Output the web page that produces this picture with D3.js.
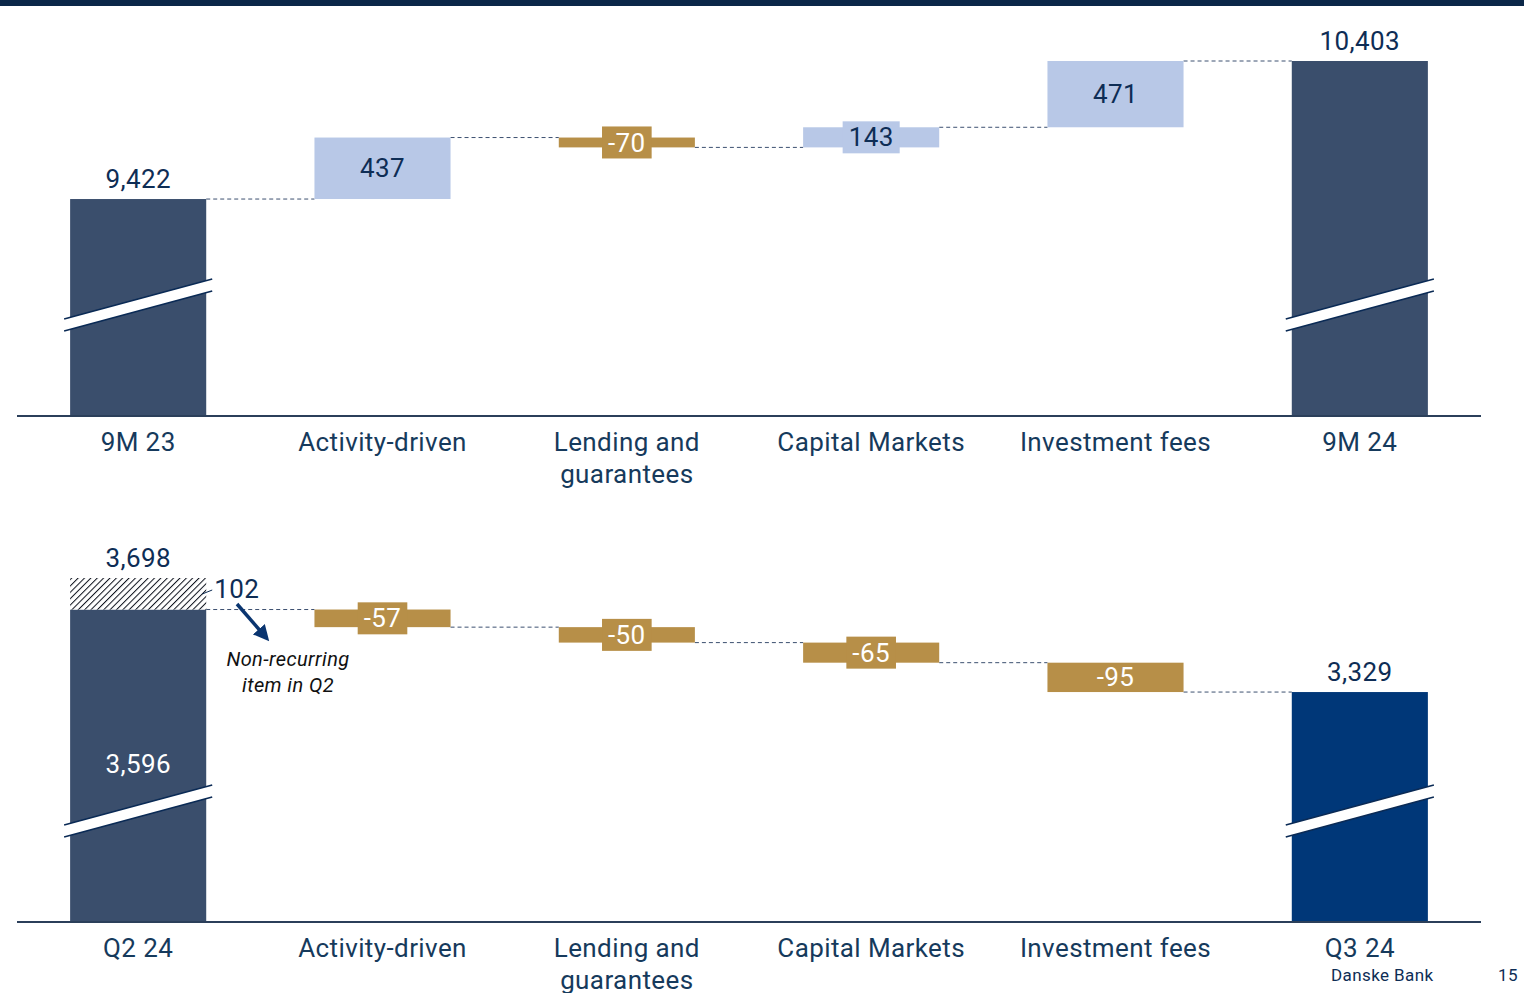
<!DOCTYPE html>
<html>
<head>
<meta charset="utf-8">
<script src="https://cdn.jsdelivr.net/npm/d3@7"></script>
<style>
  html, body { margin: 0; padding: 0; background: #fff; }
  svg { display: block; font-family: Roboto, "Noto Sans", sans-serif; letter-spacing: 0.4px; }
</style>
</head>
<body>
<svg id="chart" width="1524" height="993"></svg>
<script>
// data
var categoriesTop = ["9M 23", "Activity-driven", "Lending and\nguarantees", "Capital Markets", "Investment fees", "9M 24"];
var categoriesBottom = ["Q2 24", "Activity-driven", "Lending and\nguarantees", "Capital Markets", "Investment fees", "Q3 24"];
var startTop = 9422;
var deltasTop = [437, -70, 143, 471];
var endTop = 10403;
var startBottom = 3596;
var nonRecurring = 102;
var deltasBottom = [-57, -50, -65, -95];
var endBottom = 3329;

var navy = "#0e2d55", slate = "#3a4e6c", blue = "#003778", light = "#b8c8e7", gold = "#b78f48";
var fmt = d3.format(",");
var svg = d3.select("#chart");
var defs = svg.append("defs");

// top rule
svg.append("rect").attr("x", 0).attr("y", 0).attr("width", 1524).attr("height", 6).attr("fill", "#0b2748");

// hatch pattern
var pat = defs.append("pattern")
  .attr("id", "hatch").attr("patternUnits", "userSpaceOnUse")
  .attr("width", 4.5).attr("height", 4.5).attr("patternTransform", "rotate(45)");
pat.append("rect").attr("width", 4.5).attr("height", 4.5).attr("fill", "#fff");
pat.append("line").attr("x1", 0).attr("y1", 0).attr("x2", 0).attr("y2", 4.5)
  .attr("stroke", "#0a0f1a").attr("stroke-width", 2);

function panel(cats, start, deltas, end, domain, base, top, endColor) {
  var x = d3.scaleBand().domain(cats).range([16, 1482]).paddingInner(0.443).paddingOuter(0.2215);
  var y = d3.scaleLinear().domain(domain).range([base, top]);
  var g = svg.append("g");
  var bw = x.bandwidth();

  // running totals
  var steps = [], run = start;
  deltas.forEach(function(d, i) {
    steps.push({cat: cats[i + 1], from: run, to: run + d, v: d});
    run += d;
  });

  // connectors
  var levels = [start].concat(steps.map(function(s) { return s.to; }));
  levels.forEach(function(v, i) {
    g.append("line")
      .attr("x1", x(cats[i]) + bw).attr("x2", x(cats[i + 1]))
      .attr("y1", y(v)).attr("y2", y(v))
      .attr("stroke", "#3c5070").attr("stroke-width", 1).attr("stroke-dasharray", "4,3");
  });

  // totals
  var totals = [{cat: cats[0], v: start, c: slate}, {cat: cats[5], v: end, c: endColor}];
  totals.forEach(function(t) {
    g.append("rect").attr("x", x(t.cat)).attr("width", bw)
      .attr("y", y(t.v)).attr("height", base - y(t.v)).attr("fill", t.c);
    // axis break
    var x0 = x(t.cat) - 6, x1 = x(t.cat) + bw + 6;
    var yl = base - 97, yr = base - 137, th = 12;
    g.append("path")
      .attr("d", "M" + x0 + "," + yl + "L" + x1 + "," + yr + "L" + x1 + "," + (yr + th) + "L" + x0 + "," + (yl + th) + "Z")
      .attr("fill", "#fff");
    [0, th].forEach(function(o) {
      g.append("line").attr("x1", x0).attr("y1", yl + o).attr("x2", x1).attr("y2", yr + o)
        .attr("stroke", "#0a2a55").attr("stroke-width", 1.6);
    });
  });

  // delta bars
  steps.forEach(function(s) {
    var y0 = y(Math.max(s.from, s.to)), y1 = y(Math.min(s.from, s.to));
    var h = y1 - y0, cx = x(s.cat) + bw / 2, cy = (y0 + y1) / 2;
    var col = s.v < 0 ? gold : light;
    g.append("rect").attr("x", x(s.cat)).attr("width", bw).attr("y", y0).attr("height", h).attr("fill", col);
    var txt = g.append("text").attr("x", cx).attr("y", cy).attr("dy", "0.35em")
      .attr("text-anchor", "middle").attr("font-size", 26)
      .attr("fill", s.v < 0 ? "#fff" : navy).text(s.v < 0 ? String(s.v) : fmt(s.v));
    if (h < 27) {
      var w = txt.node().getComputedTextLength() + 12;
      g.insert("rect", function() { return txt.node(); })
        .attr("x", cx - w / 2).attr("width", w).attr("y", cy - 16).attr("height", 32).attr("fill", col);
    }
  });

  // axis line
  g.append("line").attr("x1", 17).attr("x2", 1481).attr("y1", base).attr("y2", base)
    .attr("stroke", "#2b3f5a").attr("stroke-width", 2);

  // category labels
  cats.forEach(function(c) {
    var t = g.append("text").attr("x", x(c) + bw / 2).attr("y", base + 35)
      .attr("text-anchor", "middle").attr("font-size", 26).attr("fill", "#163a5c");
    c.split("\n").forEach(function(line, i) {
      t.append("tspan").attr("x", x(c) + bw / 2).attr("dy", i ? 32 : 0).text(line);
    });
  });

  // total labels above bars
  g.append("text").attr("x", x(cats[5]) + bw / 2).attr("y", y(end) - 11)
    .attr("text-anchor", "middle").attr("font-size", 26).attr("fill", navy).text(fmt(end));

  return {x: x, y: y, g: g, bw: bw};
}

// top panel
var p1 = panel(categoriesTop, startTop, deltasTop, endTop, [7880, 10403], 416, 61, slate);
p1.g.append("text").attr("x", p1.x(categoriesTop[0]) + p1.bw / 2).attr("y", p1.y(startTop) - 11)
  .attr("text-anchor", "middle").attr("font-size", 26).attr("fill", navy).text(fmt(startTop));

// bottom panel
var p2 = panel(categoriesBottom, startBottom, deltasBottom, endBottom, [2585, 3698], 922, 578, blue);
var q2 = p2.x(categoriesBottom[0]);
p2.g.append("rect").attr("x", q2).attr("width", p2.bw)
  .attr("y", p2.y(startBottom + nonRecurring)).attr("height", p2.y(startBottom) - p2.y(startBottom + nonRecurring))
  .attr("fill", "url(#hatch)");
p2.g.append("text").attr("x", q2 + p2.bw / 2).attr("y", p2.y(startBottom + nonRecurring) - 11)
  .attr("text-anchor", "middle").attr("font-size", 26).attr("fill", navy).text(fmt(startBottom + nonRecurring));
p2.g.append("text").attr("x", q2 + p2.bw / 2).attr("y", p2.y(startBottom) + 154)
  .attr("dy", "0.35em").attr("text-anchor", "middle").attr("font-size", 26).attr("fill", "#fff").text(fmt(startBottom));
// 102 label with leader
var ym = p2.y(startBottom + nonRecurring) + 11;
p2.g.append("line").attr("x1", q2 + p2.bw - 4).attr("y1", ym + 5).attr("x2", q2 + p2.bw + 6).attr("y2", ym + 1)
  .attr("stroke", navy).attr("stroke-width", 1);
p2.g.append("text").attr("x", q2 + p2.bw + 8).attr("y", ym).attr("dy", "0.35em")
  .attr("font-size", 26).attr("fill", navy).text(fmt(nonRecurring));
// arrow
defs.append("marker").attr("id", "arr").attr("viewBox", "0 0 10 10")
  .attr("refX", 4).attr("refY", 5).attr("markerWidth", 4.5).attr("markerHeight", 4.5).attr("orient", "auto")
  .attr("markerUnits", "strokeWidth")
  .append("path").attr("d", "M0,0L10,5L0,10Z").attr("fill", "#0a3570");
p2.g.append("line").attr("x1", 237).attr("y1", 604).attr("x2", 263).attr("y2", 634)
  .attr("stroke", "#0a3570").attr("stroke-width", 3.5).attr("marker-end", "url(#arr)");
var note = p2.g.append("text").attr("text-anchor", "middle").attr("font-size", 20)
  .attr("font-style", "italic").attr("fill", "#111");
note.append("tspan").attr("x", 288).attr("y", 666).text("Non-recurring");
note.append("tspan").attr("x", 288).attr("y", 692).text("item in Q2");

// footer
svg.append("text").attr("x", 1331).attr("y", 981).attr("font-size", 17).attr("fill", navy).text("Danske Bank");
svg.append("text").attr("x", 1518).attr("y", 981).attr("text-anchor", "end").attr("font-size", 17).attr("fill", navy).text("15");
</script>
</body>
</html>
